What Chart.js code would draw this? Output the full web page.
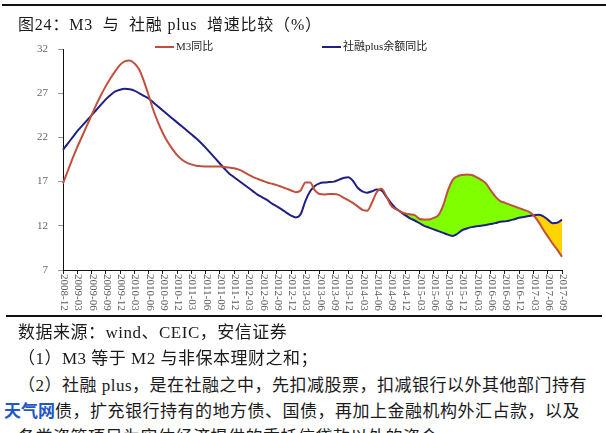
<!DOCTYPE html>
<html>
<head>
<meta charset="utf-8">
<script src="https://cdn.jsdelivr.net/npm/chart.js@4"></script>
<style>
    body { margin: 0; width: 606px; height: 433px; overflow: hidden; background: #fff; position: relative;
           font-family: 'Liberation Serif', 'Noto Sans CJK SC', serif; color: #1a1a1a; }
    #topline { position: absolute; left: 2px; width: 604px; top: 4px; height: 2px; background: #111; z-index: 3; }
    #title { position: absolute; left: 18px; top: 11px; font-size: 16px; letter-spacing: 0.8px; white-space: nowrap; z-index: 2; }
    #chartBox { position: absolute; left: 0; top: 0; z-index: 1; }
    #bottomline { position: absolute; left: 6px; right: 4px; top: 315px; height: 2px; background: #111; z-index: 2; }
    .note { position: absolute; left: 18px; font-size: 17px; letter-spacing: 0.5px; white-space: nowrap; z-index: 2; }
    .mark { color: #1f56c8; font-weight: bold; font-family: 'Noto Sans CJK SC', sans-serif; letter-spacing: 0; }
</style>
</head>
<body>
<div id="topline"></div>
<div id="title">图24：M3&nbsp; 与&nbsp; 社融 plus&nbsp; 增速比较（%）</div>
<canvas id="chartBox" width="606" height="320"></canvas>
<div id="bottomline"></div>
<div class="note" style="top:318px">数据来源：wind、CEIC，安信证券</div>
<div class="note" style="top:344px">（1）M3 等于 M2 与非保本理财之和；</div>
<div class="note" style="top:371px">（2）社融 plus，是在社融之中，先扣减股票，扣减银行以外其他部门持有</div>
<div class="note" style="top:397px; left:4px"><span class="mark">天气网</span>债，扩充银行持有的地方债、国债，再加上金融机构外汇占款，以及</div>
<div class="note" style="top:423px">各类资管项目为实体经济提供的委托信贷款以外的资金</div>

<script>
// monthly, 2008-12 .. 2017-09
const startYear = 2008;
const startMonth = 12;
const monthCount = 106;

const m3Yoy = [
    16.8, 18.2, 19.6, 20.9, 22.1, 23.3, 24.5, 25.7, 26.8, 27.8,
    28.7, 29.5, 30.2, 30.6, 30.7, 30.4, 29.7, 28.4, 26.8, 25.1,
    23.7, 22.5, 21.5, 20.7, 20.0, 19.5, 19.15, 18.95, 18.8, 18.75,
    18.7, 18.7, 18.7, 18.7, 18.65, 18.6, 18.5, 18.35, 18.1, 17.8,
    17.5, 17.3, 17.1, 16.9, 16.75, 16.6, 16.4, 16.2, 16.0, 15.8,
    16.0, 16.9, 16.9, 16.0, 15.6, 15.55, 15.6, 15.6, 15.5, 15.2,
    14.9, 14.6, 14.2, 13.8, 13.7, 14.6, 15.8, 16.2, 15.4, 14.3,
    13.9, 13.6, 13.4, 13.3, 13.2, 12.8, 12.7, 12.7, 12.9, 13.2,
    14.3, 16.0, 17.2, 17.6, 17.75, 17.8, 17.75, 17.5, 17.2, 16.8,
    16.0, 15.3, 14.8, 14.6, 14.4, 14.2, 14.0, 13.8, 13.6, 13.2,
    12.5, 11.6, 10.8, 10.0, 9.3, 8.5
];

const plusYoy = [
    20.6, 21.3, 22.0, 22.7, 23.3, 23.9, 24.5, 25.1, 25.7, 26.3,
    26.8, 27.2, 27.4, 27.5, 27.45, 27.3, 27.0, 26.7, 26.4, 25.95,
    25.5, 25.05, 24.6, 24.15, 23.7, 23.25, 22.8, 22.35, 21.9, 21.4,
    20.85, 20.25, 19.65, 19.05, 18.45, 17.9, 17.5, 17.1, 16.7, 16.3,
    15.9, 15.5, 15.2, 14.9, 14.5, 14.2, 13.85, 13.5, 13.15, 12.95,
    13.3, 14.8, 15.9, 16.5, 16.8, 16.9, 16.95, 17.0, 17.2, 17.4,
    17.5, 17.1, 16.3, 15.9, 15.75, 15.9, 16.1, 16.0, 15.3, 14.6,
    14.0, 13.6, 13.2, 12.85, 12.6, 12.3, 12.0, 11.8, 11.6, 11.4,
    11.2, 11.0, 10.85, 11.1, 11.5, 11.7, 11.85, 11.95, 12.0, 12.1,
    12.2, 12.3, 12.45, 12.5, 12.6, 12.75, 12.9, 13.0, 13.1, 13.2,
    13.25, 13.1, 12.7, 12.3, 12.35, 12.7
];

const yTicks = [7, 12, 17, 22, 27, 32];
const seriesNames = ['M3同比', '社融plus余额同比'];
const fillFrom = 70; // shading starts at 2014-10

const months = [];
for (let i = 0; i < monthCount; i++) {
    const n = startMonth - 1 + i;
    const y = startYear + Math.floor(n / 12);
    const m = (n % 12) + 1;
    months.push(y + '-' + (m < 10 ? '0' + m : m));
}

const shade = m3Yoy.map((v, i) => (i >= fillFrom ? v : null));

// x labels drawn rotated clockwise, plus a hand placed legend
const extras = {
    id: 'extras',
    afterDraw(chart) {
        const ctx = chart.ctx;
        const xs = chart.scales.x;
        const bottom = chart.chartArea.bottom;

        ctx.save();
        ctx.fillStyle = '#5a5a5a';
        ctx.font = '11px "Liberation Serif"';
        ctx.textAlign = 'left';
        ctx.textBaseline = 'middle';
        months.forEach((label, i) => {
            if (i % 3 !== 0) return;
            const x = xs.getPixelForTick(i);
            ctx.save();
            ctx.translate(x + 1, bottom + 4);
            ctx.rotate(Math.PI / 2);
            ctx.fillText(label, 0, 0);
            ctx.restore();
        });
        ctx.restore();

        const items = [
            { x: 155, color: chart.data.datasets[0].borderColor, text: seriesNames[0] },
            { x: 322, color: chart.data.datasets[1].borderColor, text: seriesNames[1] }
        ];
        ctx.save();
        ctx.font = '11px "Liberation Serif", "Noto Sans CJK SC"';
        ctx.textBaseline = 'middle';
        ctx.fillStyle = '#222';
        items.forEach(item => {
            ctx.strokeStyle = item.color;
            ctx.lineWidth = 2;
            ctx.beginPath();
            ctx.moveTo(item.x, 47);
            ctx.lineTo(item.x + 19, 47);
            ctx.stroke();
            ctx.fillText(item.text, item.x + 21, 47);
        });
        ctx.restore();
    }
};

new Chart(document.getElementById('chartBox'), {
    type: 'line',
    data: {
        labels: months,
        datasets: [
            {
                label: seriesNames[0],
                data: m3Yoy,
                borderColor: '#c0503c',
                borderWidth: 2,
                pointRadius: 0,
                cubicInterpolationMode: 'monotone',
                fill: false
            },
            {
                label: seriesNames[1],
                data: plusYoy,
                borderColor: '#1f1f86',
                borderWidth: 2,
                pointRadius: 0,
                cubicInterpolationMode: 'monotone',
                fill: false
            },
            {
                label: 'shade',
                data: shade,
                borderWidth: 0,
                borderColor: 'rgba(0,0,0,0)',
                pointRadius: 0,
                cubicInterpolationMode: 'monotone',
                fill: { target: 1, above: '#80ff00', below: '#ffd400' }
            }
        ]
    },
    options: {
        responsive: false,
        animation: false,
        layout: { padding: { top: 49, right: 44, left: 0, bottom: 0 } },
        plugins: {
            legend: { display: false },
            tooltip: { enabled: false }
        },
        scales: {
            x: {
                offset: false,
                ticks: { display: false, autoSkip: false },
                grid: {
                    drawOnChartArea: false,
                    tickLength: 4,
                    color: c => (c.index % 3 === 0 ? '#222' : 'rgba(0,0,0,0)')
                },
                border: { color: '#111', width: 1 },
                afterFit: s => { s.height = 50; }
            },
            y: {
                min: 7,
                max: 32,
                afterBuildTicks: s => { s.ticks = yTicks.map(v => ({ value: v })); },
                ticks: {
                    color: '#666',
                    padding: 10,
                    font: { family: 'Liberation Serif', size: 11 }
                },
                grid: { drawOnChartArea: false, tickLength: 5, color: '#999' },
                border: { color: '#111', width: 1 },
                afterFit: s => { s.width = 63; }
            }
        }
    },
    plugins: [extras]
});
</script>
</body>
</html>
